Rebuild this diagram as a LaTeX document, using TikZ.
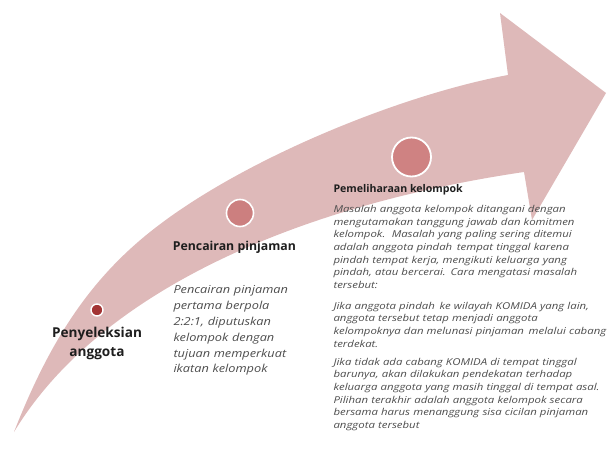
\documentclass[tikz,border=0pt]{standalone}
\usepackage{fontspec}
\setmainfont{Open Sans}
\newfontfamily\widebody[FakeStretch=1.2]{Open Sans}
\newfontfamily\widemid[FakeStretch=1.16]{Open Sans}
\definecolor{arrowpink}{HTML}{DEB9B9}
\definecolor{dotbig}{HTML}{CF8282}
\definecolor{dotmid}{HTML}{CC7F7F}
\definecolor{dotsmall}{HTML}{A33434}
\definecolor{bodygray}{HTML}{4D4D4D}
\definecolor{headblack}{HTML}{1E1E1E}
\begin{document}
\begin{tikzpicture}[x=1pt,y=-1pt,
  stagedot/.style={circle,draw=white,inner sep=0pt},
  headtxt/.style={anchor=base west,inner sep=0pt,text=headblack},
  bodytxt/.style={anchor=base west,inner sep=0pt,text=bodygray,align=left,text width=290pt,font=\widebody\itshape\fontsize{9.5}{12.67}\selectfont},
  midtxt/.style={anchor=base west,inner sep=0pt,text=bodygray,align=left,text width=150pt,font=\widemid\itshape\fontsize{11}{15.9}\selectfont}]
\useasboundingbox (0,0) rectangle (608,454);
% arrow
\fill[arrowpink] (14,432) .. controls (50,340) and (90,280) .. (150,232)
  .. controls (240,160) and (400,95) .. (508,75)
  -- (500,13) -- (606,93) -- (532,220) -- (524,172)
  .. controls (300,205) and (100,290) .. (14,432) -- cycle;
% stage dots
\node[stagedot,fill=dotsmall,minimum size=12pt,line width=1.4pt] (d1) at (97,310) {};
\node[stagedot,fill=dotmid,minimum size=27pt,line width=1.6pt] (d2) at (240,213) {};
\node[stagedot,fill=dotbig,minimum size=39pt,line width=1.8pt] (d3) at (411.5,157) {};
% stage 1
\node[anchor=base,inner sep=0pt,text=headblack,align=center,font=\bfseries\fontsize{13.6}{19.4}\selectfont] (t1) at (97,356.5) {Penyeleksian\\anggota};
% stage 2
\node[headtxt,font=\bfseries\fontsize{12.3}{15}\selectfont] (t2) at (172.7,251) {Pencairan pinjaman};
\node[midtxt] (b2) at (173.3,293.5) {Pencairan pinjaman\\pertama berpola\\2:2:1, diputuskan\\kelompok dengan\\tujuan memperkuat\\ikatan kelompok};
% stage 3
\node[headtxt,font=\bfseries\fontsize{10.6}{13}\selectfont] (t3) at (333.3,193) {Pemeliharaan kelompok};
\node[bodytxt] (b3a) at (333.3,212.6) {Masalah anggota kelompok ditangani dengan\\mengutamakan tanggung jawab dan komitmen\\kelompok.\ \ Masalah yang paling sering ditemui\\adalah anggota pindah\hspace{1.5pt} tempat tinggal karena\\pindah tempat kerja, mengikuti keluarga yang\\pindah, atau bercerai. Cara mengatasi masalah\\tersebut:};
\node[bodytxt] (b3b) at (333.3,309.3) {Jika anggota pindah\hspace{1.5pt} ke wilayah KOMIDA yang lain,\\anggota tersebut tetap menjadi anggota\\kelompoknya dan melunasi pinjaman\hspace{1.5pt} melalui cabang\\terdekat.};
\node[bodytxt] (b3c) at (333.3,365.3) {Jika tidak ada cabang KOMIDA di tempat tinggal\\barunya, akan dilakukan pendekatan terhadap\\keluarga anggota yang masih tinggal di tempat asal.\\Pilihan terakhir adalah anggota kelompok secara\\bersama harus menanggung sisa cicilan pinjaman\\anggota tersebut};
\end{tikzpicture}
\end{document}
